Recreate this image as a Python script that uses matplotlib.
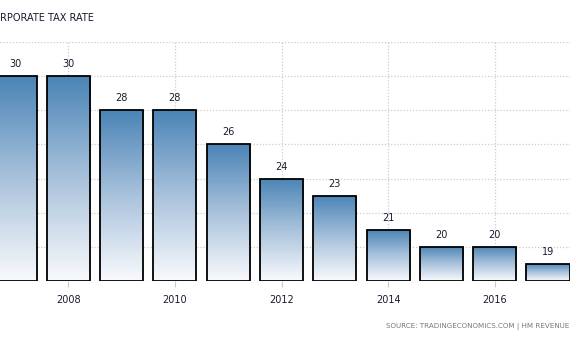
import numpy as np
import matplotlib
matplotlib.use("Agg")
import matplotlib.pyplot as plt
from matplotlib.colors import LinearSegmentedColormap

years = [2007, 2008, 2009, 2010, 2011, 2012, 2013, 2014, 2015, 2016, 2017]
rates = [30, 30, 28, 28, 26, 24, 23, 21, 20, 20, 19]
tick_years = [2008, 2010, 2012, 2014, 2016]
title = "RPORATE TAX RATE"
source = "SOURCE: TRADINGECONOMICS.COM | HM REVENUE"

W, H = 570, 338
fig = plt.figure(figsize=(W / 100, H / 100), dpi=100)
ax = fig.add_axes([0, 1 - 281 / H, 1, (281 - 42) / H])

for s in ax.spines.values():
    s.set_visible(False)

ax.set_yticks(np.arange(18, 33, 2))
ax.set_xticks(tick_years)
ax.set_xticklabels([str(y) for y in tick_years])
ax.tick_params(axis="y", left=False, labelleft=False)
ax.tick_params(axis="x", length=4, color="#cccccc", labelsize=7, labelcolor="#1a1a2e", pad=6)
ax.grid(True, color="#cccccc", linestyle=(0, (1, 1.5)), linewidth=0.9)
ax.set_axisbelow(True)

cmap = LinearSegmentedColormap.from_list("g", ["#f9fafd", "#a9c2dc", "#4a84b6"])
grad = np.linspace(0, 1, 256).reshape(-1, 1)
bars = ax.bar(years, [r - 18 for r in rates], bottom=18, width=0.81,
              facecolor="none", edgecolor="black", linewidth=1.3, zorder=3)
for b, r in zip(bars, rates):
    x0, y0 = b.get_x(), b.get_y()
    w, h = b.get_width(), b.get_height()
    im = ax.imshow(grad, cmap=cmap, origin="lower", aspect="auto",
                   extent=[x0, x0 + w, y0, y0 + h], zorder=2)
    im.set_clip_path(b)
    ax.annotate(str(r), (x0 + w / 2, y0 + h), xytext=(0, 5), textcoords="offset points",
                ha="center", va="bottom", fontsize=7, color="#1a1a2e")
ax.set_xlim(2007 - 15 / 53.3, 2007 + (570 - 15) / 53.3)
ax.set_ylim(18, 32)

fig.text(0, 1 - 18 / H, title, ha="left", va="center", fontsize=7, color="#1a1a2e")
fig.text(386 / W, 1 - 326 / H, source, ha="left", va="center", fontsize=5.1, color="#777777")

fig.savefig("out.png", dpi=100)
